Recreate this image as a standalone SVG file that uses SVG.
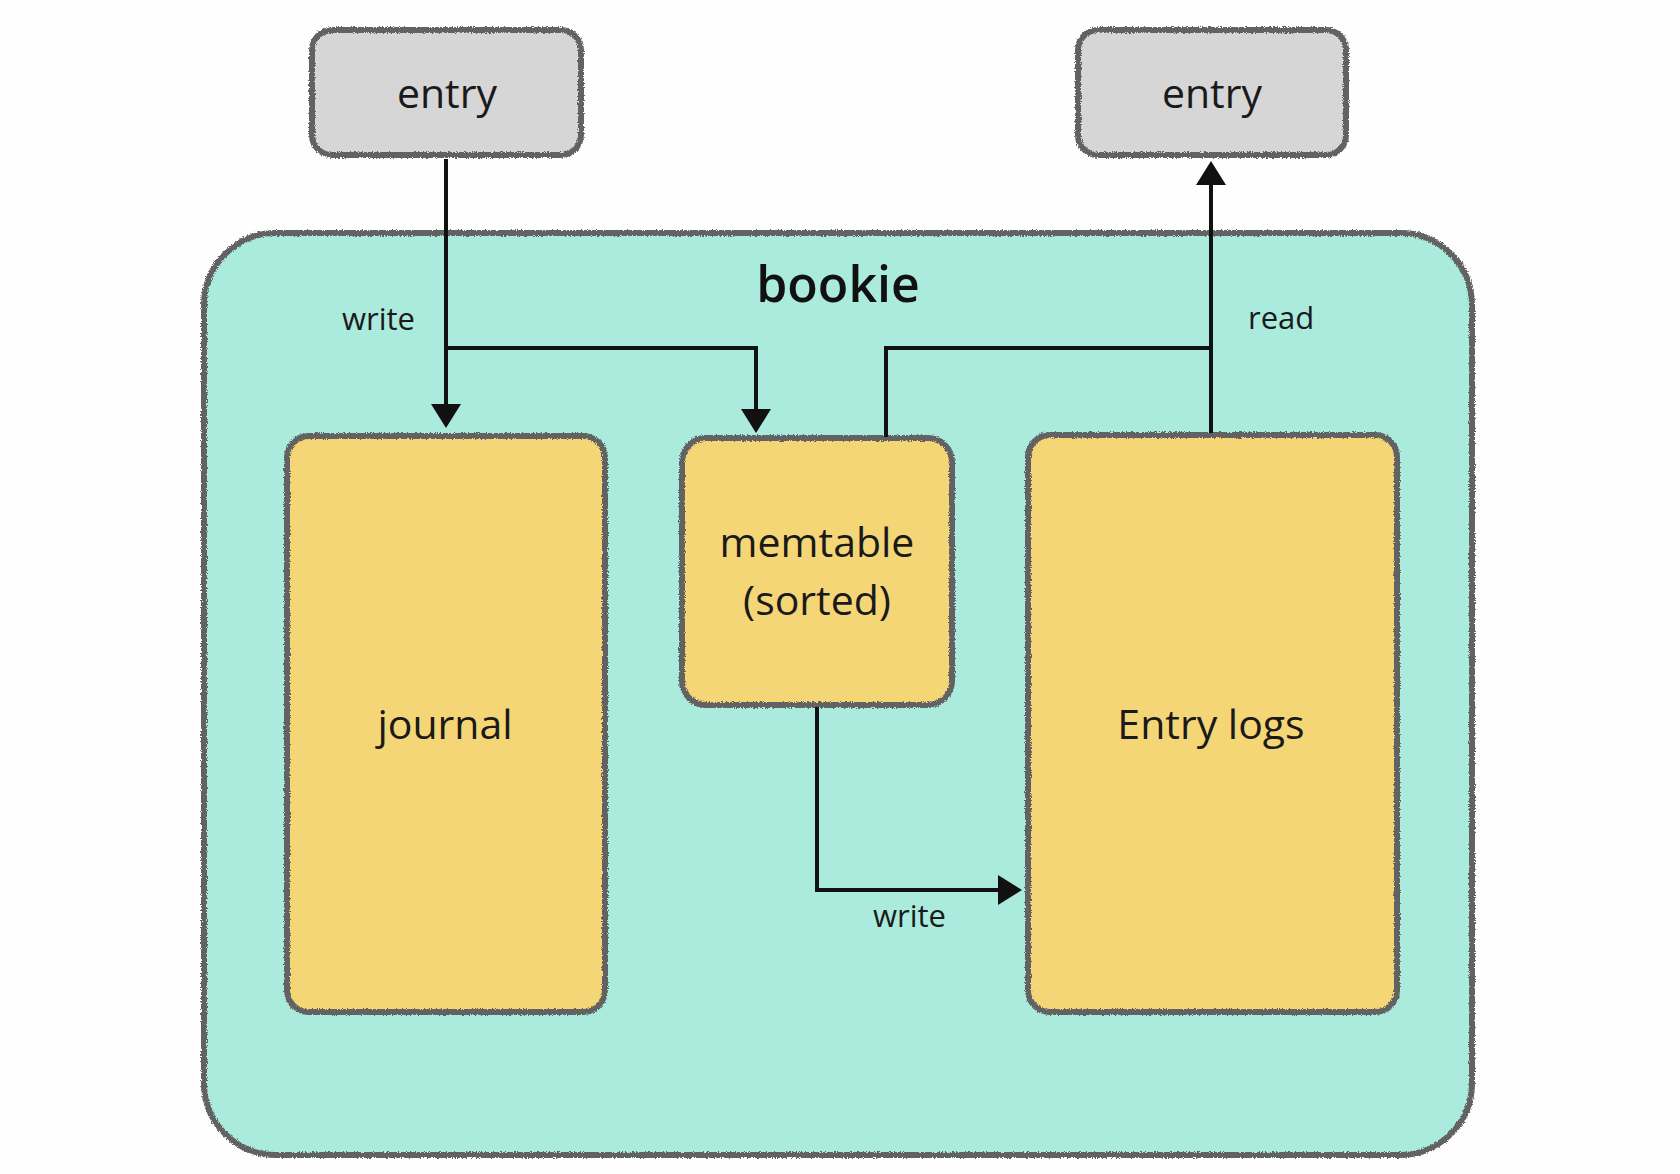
<svg xmlns="http://www.w3.org/2000/svg" width="1680" height="1174" viewBox="0 0 1680 1174">
  <style>
    .box { stroke: #626262; stroke-width: 6; filter: url(#rough); }
    .grey { fill: #d6d6d6; }
    .mint { fill: #aaebdd; }
    .yellow { fill: #f5d677; }
    .lbl { font-family: "Open Sans", "Liberation Sans", sans-serif; fill: #1a1a1a; }
    .big { font-size: 41px; text-anchor: middle; }
    .small { font-size: 31px; }
    .title { font-size: 50px; font-weight: 600; text-anchor: middle; fill: #111; }
    .conn { fill: none; stroke: #111; stroke-width: 4; }
  </style>
  <defs>
    <filter id="rough" x="-5%" y="-5%" width="110%" height="110%">
      <feTurbulence type="fractalNoise" baseFrequency="0.8" numOctaves="2" seed="3" result="n"/>
      <feDisplacementMap in="SourceGraphic" in2="n" scale="4" xChannelSelector="R" yChannelSelector="G"/>
    </filter>
    <marker id="arrow" viewBox="0 0 24 30" refX="14" refY="15" markerWidth="24" markerHeight="30" markerUnits="userSpaceOnUse" orient="auto">
      <path d="M0,0 L24,15 L0,30 Z" fill="#111"/>
    </marker>
  </defs>
  <rect width="1680" height="1174" fill="#fefefe"/>

  <g id="bookie">
    <rect class="box mint" x="204" y="233" width="1268" height="922" rx="72" ry="72"/>
    <text class="lbl title" x="838" y="302">bookie</text>
  </g>

  <g id="entry-in">
    <rect class="box grey" x="312" y="30" width="269" height="125" rx="20" ry="20"/>
    <text class="lbl big" x="447" y="108">entry</text>
  </g>

  <g id="entry-out">
    <rect class="box grey" x="1078" y="30" width="268" height="125" rx="20" ry="20"/>
    <text class="lbl big" x="1212" y="108">entry</text>
  </g>

  <g id="journal">
    <rect class="box yellow" x="287" y="436" width="318" height="576" rx="22" ry="22"/>
    <text class="lbl big" x="445" y="739">journal</text>
  </g>

  <g id="memtable">
    <rect class="box yellow" x="682" y="438" width="270" height="267" rx="24" ry="24"/>
    <text class="lbl big" x="817" y="557">memtable</text>
    <text class="lbl big" x="817" y="615">(sorted)</text>
  </g>

  <g id="entry-logs">
    <rect class="box yellow" x="1028" y="435" width="369" height="577" rx="22" ry="22"/>
    <text class="lbl big" x="1211" y="739">Entry logs</text>
  </g>

  <g id="connectors">
    <path class="conn" d="M446,159 V418" marker-end="url(#arrow)"/>
    <path class="conn" d="M446,348 H756 V423" marker-end="url(#arrow)"/>
    <path class="conn" d="M886,437 V348 H1211"/>
    <path class="conn" d="M1211,433 V171" marker-end="url(#arrow)"/>
    <path class="conn" d="M817,707 V890 H1012" marker-end="url(#arrow)"/>
    <text class="lbl small" x="342" y="330">write</text>
    <text class="lbl small" x="1248" y="329">read</text>
    <text class="lbl small" x="873" y="927">write</text>
  </g>
</svg>
